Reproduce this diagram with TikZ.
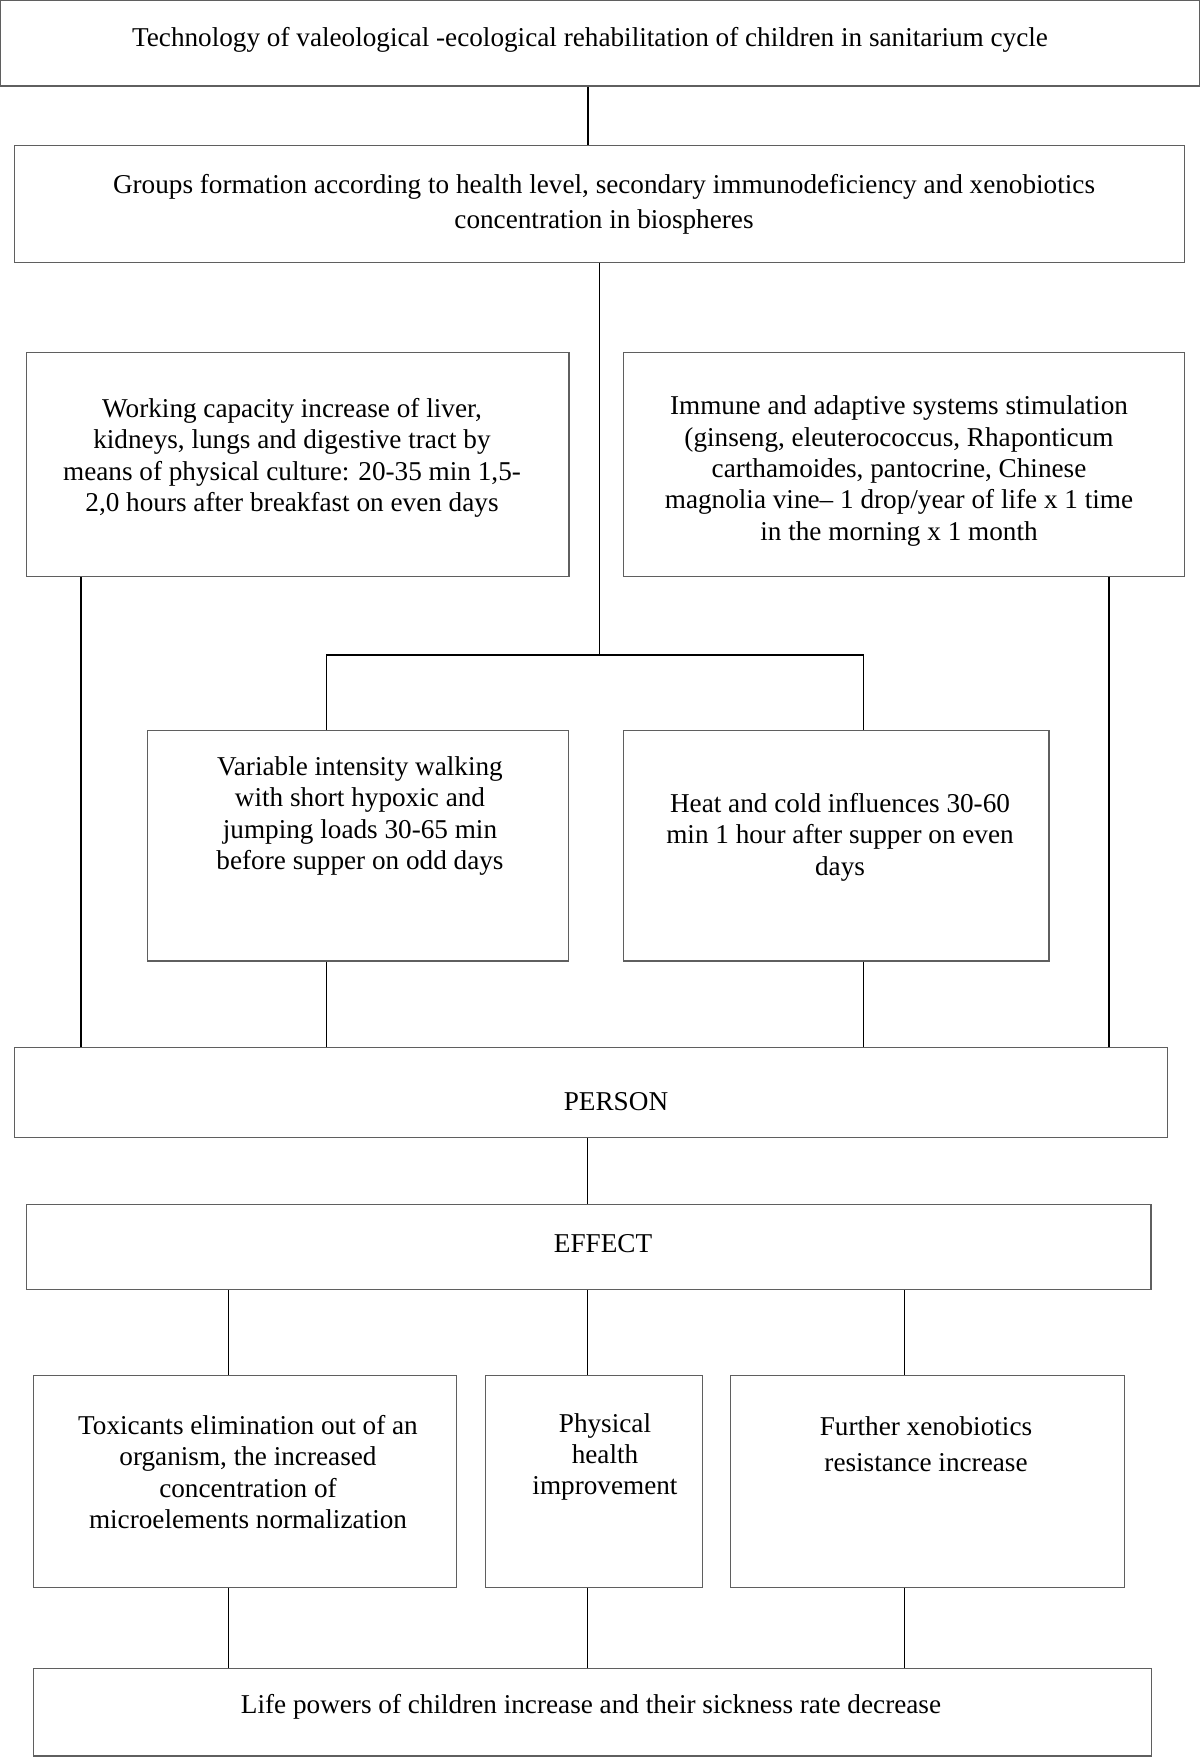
\documentclass[tikz,border=0pt]{standalone}
\usepackage{fontspec}
\setmainfont{Liberation Serif}
\usetikzlibrary{fit}
\definecolor{boxgray}{RGB}{95,95,95}
\tikzset{
  box/.style={draw=boxgray, line width=0.65pt, rectangle, inner sep=0pt},
  txt/.style={align=center, inner sep=0pt, font=\fontsize{13.6}{15.7}\selectfont},
  txtwide/.style={align=center, inner sep=0pt, font=\fontsize{13.6}{17.4}\selectfont},
  txtfur/.style={align=center, inner sep=0pt, font=\fontsize{13.6}{18}\selectfont},
  conn/.style={draw=black, line width=0.6pt}
}
\begin{document}
\begin{tikzpicture}[x=0.5pt,y=-0.5pt]
\useasboundingbox (0,0) rectangle (1200,1757);
\fill[white] (0,0) rectangle (1200,1757);
% boxes
\node[box, fit={(0.6,0.6) (1199.2,86)}] (title) {};
\node[box, fit={(14.5,145.3) (1184.7,262.3)}] (grp) {};
\node[box, fit={(26.8,352.3) (569,576.3)}] (work) {};
\node[box, fit={(623.7,352.3) (1184.8,576.3)}] (imm) {};
\node[box, fit={(147.8,730.7) (568.8,961)}] (var) {};
\node[box, fit={(623.6,730.7) (1049,961)}] (heat) {};
\node[box, fit={(14.5,1047.3) (1167.6,1137.7)}] (person) {};
\node[box, fit={(26.8,1204.3) (1151,1289.7)}] (effect) {};
\node[box, fit={(33.7,1375.3) (456.7,1587.3)}] (tox) {};
\node[box, fit={(485.8,1375.3) (702.3,1587.3)}] (phys) {};
\node[box, fit={(730.6,1375.3) (1124.6,1587.3)}] (fur) {};
\node[box, fit={(33.7,1668.3) (1151.3,1756)}] (life) {};
% texts
\node[txt] (ttitle) at (590,40) {Technology of valeological -ecological rehabilitation of children in sanitarium cycle};
\node[txtwide] (tgrp) at (604,204) {Groups formation according to health level, secondary immunodeficiency and xenobiotics\\concentration in biospheres};
\node[txt] (twork) at (292,458) {Working capacity increase of liver,\\kidneys, lungs and digestive tract by\\means of physical culture: 20-35 min 1,5-\\2,0 hours after breakfast on even days};
\node[txt] (timm) at (899,471) {Immune and adaptive systems stimulation\\(ginseng, eleuterococcus, Rhaponticum\\carthamoides, pantocrine, Chinese\\magnolia vine-- 1 drop/year of life x 1 time\\in the morning x 1 month};
\node[txt] (tvar) at (360,816) {Variable intensity walking\\with short hypoxic and\\jumping loads 30-65 min\\before supper on odd days};
\node[txt] (theat) at (840,837) {Heat and cold influences 30-60\\min 1 hour after supper on even\\days};
\node[txt] (tperson) at (616,1102) {PERSON};
\node[txt] (teffect) at (603,1244) {EFFECT};
\node[txt] (ttox) at (248,1472) {Toxicants elimination out of an\\organism, the increased\\concentration of\\microelements normalization};
\node[txt] (tphys) at (605,1457) {Physical\\health\\improvement};
\node[txtfur] (tfur) at (926,1444) {Further xenobiotics\\resistance increase};
\node[txt] (tlife) at (591,1707) {Life powers of children increase and their sickness rate decrease};
% junction coordinates
\coordinate (j1) at (588,0);
\coordinate (cj) at (599.5,655);
\coordinate (cl) at (326.5,655);
\coordinate (cr) at (863.5,655);
\coordinate (xl) at (81,0);
\coordinate (xr) at (1109,0);
\coordinate (xm) at (587.5,0);
\coordinate (xa) at (228.7,0);
\coordinate (xc) at (904.2,0);
% connectors
\draw[conn] (title.south -| j1) -- (grp.north -| j1);
\draw[conn] (grp.south -| cj) -- (cj);
\draw[conn] (var.north -| cl) -- (cl) -- (cr) -- (heat.north -| cr);
\draw[conn] (var.south -| cl) -- (person.north -| cl);
\draw[conn] (heat.south -| cr) -- (person.north -| cr);
\draw[conn] (work.south -| xl) -- (person.north -| xl);
\draw[conn] (imm.south -| xr) -- (person.north -| xr);
\draw[conn] (person.south -| xm) -- (effect.north -| xm);
\draw[conn] (effect.south -| xa) -- (tox.north -| xa);
\draw[conn] (effect.south -| xm) -- (phys.north -| xm);
\draw[conn] (effect.south -| xc) -- (fur.north -| xc);
\draw[conn] (tox.south -| xa) -- (life.north -| xa);
\draw[conn] (phys.south -| xm) -- (life.north -| xm);
\draw[conn] (fur.south -| xc) -- (life.north -| xc);
\end{tikzpicture}
\end{document}
